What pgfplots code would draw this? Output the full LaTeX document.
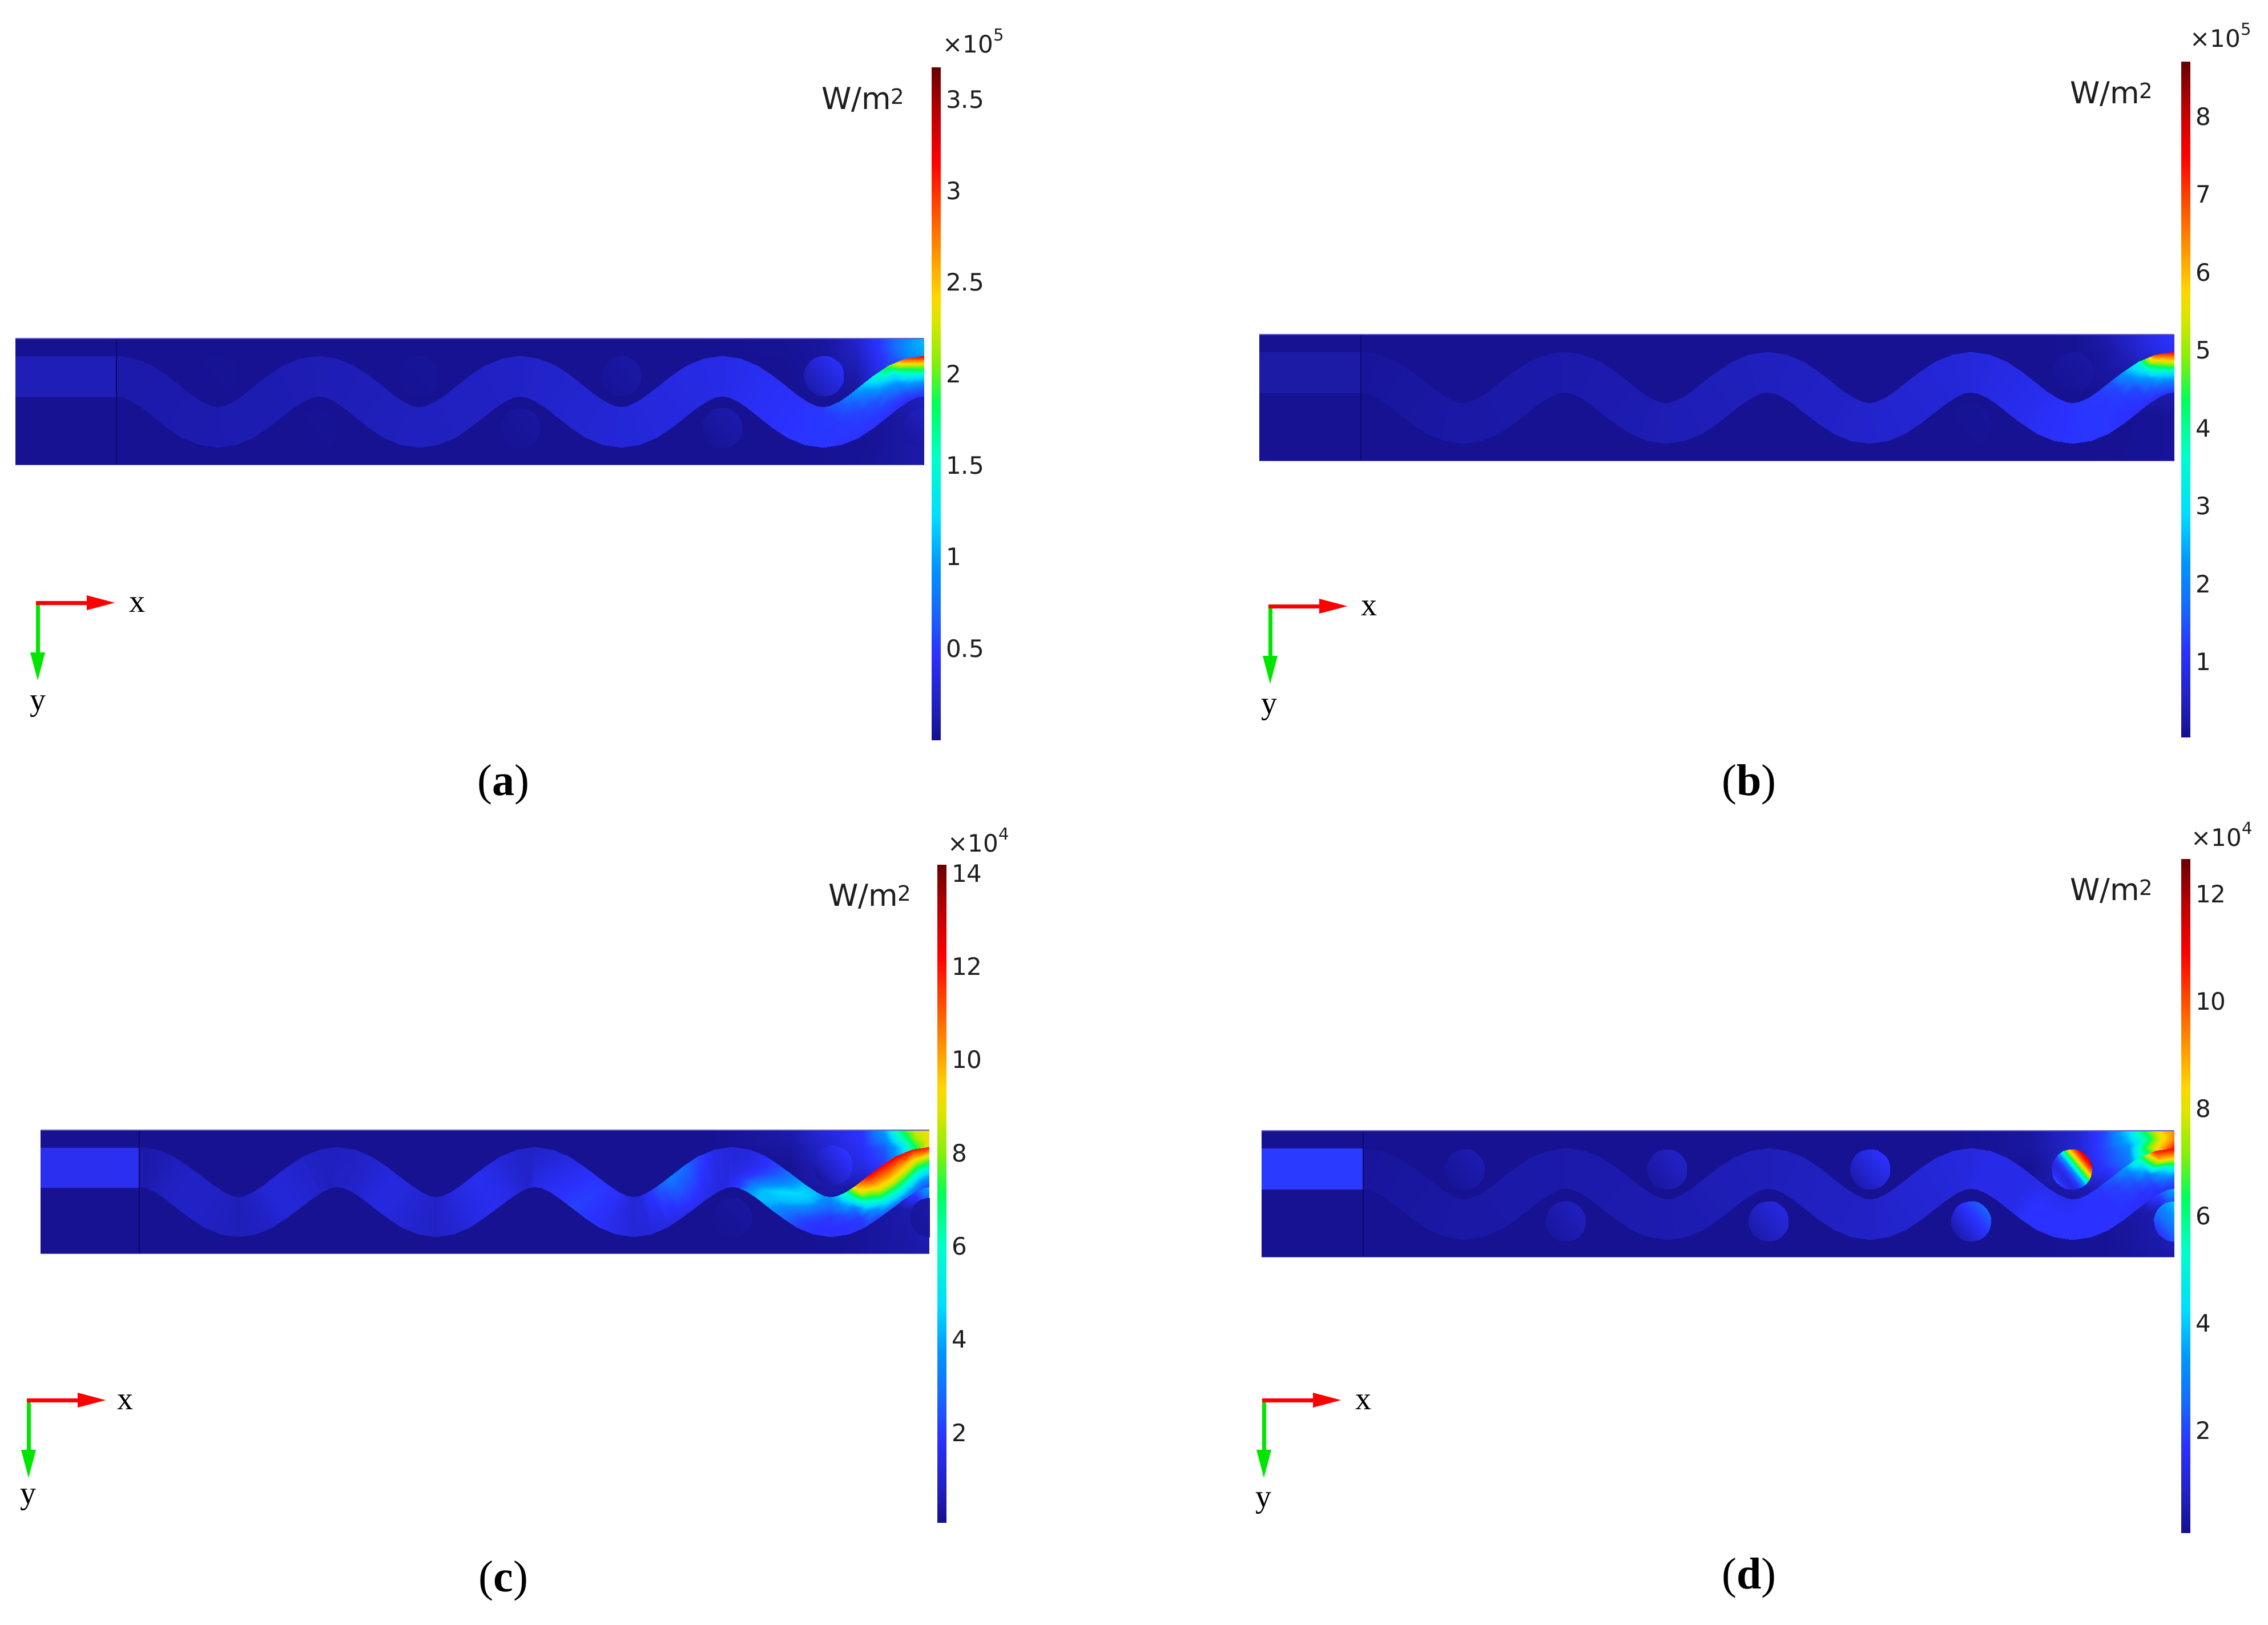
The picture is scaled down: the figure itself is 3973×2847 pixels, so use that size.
\documentclass[border=0pt]{standalone}
\usepackage{fontspec}
\setmainfont{DejaVu Sans}
\newfontfamily\serifx{Liberation Serif}
\usepackage{pgfplots}
\usepackage{pgfplotstable}
\pgfplotsset{compat=1.18}
\definecolor{bgnavy}{RGB}{22,18,145}
\definecolor{sepline}{RGB}{12,10,105}
\definecolor{edgeln}{RGB}{95,95,200}
\definecolor{txt}{RGB}{30,30,30}
\definecolor{inA}{RGB}{31,31,184}
\definecolor{inB}{RGB}{27,27,166}
\definecolor{inC}{RGB}{43,48,240}
\definecolor{inD}{RGB}{43,58,255}
\definecolor{triadg}{RGB}{0,230,0}
\newcommand\tickf{\fontsize{42}{50}\selectfont}
\newcommand\unitf{\fontsize{53}{60}\selectfont}
\newcommand\capf{\serifx\fontsize{78}{90}\selectfont}
\newcommand\xyf{\serifx\fontsize{56}{60}\selectfont}
\newcommand\supr[1]{\raisebox{0.5em}{\fontsize{29}{30}\selectfont #1}}
\pgfplotsset{
  colormap={cmheat}{rgb255(0)=(21,16,140) rgb255(5)=(32,32,190) rgb255(13)=(43,50,255) rgb255(20)=(20,110,255)
    rgb255(26)=(0,150,255) rgb255(33)=(0,220,255) rgb255(42)=(0,255,200) rgb255(50)=(0,255,90)
    rgb255(56)=(130,240,10) rgb255(62)=(215,230,0) rgb255(66)=(255,215,0) rgb255(75)=(255,120,0)
    rgb255(86)=(255,0,0) rgb255(93)=(190,0,0) rgb255(100)=(105,0,0)},
  colormap name=cmheat,
  panel/.style={anchor=south west,scale only axis,hide axis,xmin=0,xmax=1600,ymin=0,ymax=220,
    y dir=reverse,point meta min=0,point meta max=1,clip=true},
  cbar/.style={anchor=south west,scale only axis,width=15pt,xmin=0,xmax=1,xtick=\empty,
    axis line style={draw=none},yticklabel pos=right,scaled y ticks=false,tick align=inside,
    major tick length=6pt,ytick pos=both,point meta min=0,point meta max=1,
    tick style={black,opacity=0.3,line width=1pt},
    /pgf/number format/assume math mode=true,
    yticklabel style={font=\tickf,text=txt,inner sep=0pt,xshift=10pt,yshift=-2pt}},
}
% ---- background glow, right end of each plate: x y a b c d
\pgfplotstableread{
x y a b c d
1200 0 0.005 0.005 0.005 0.005
1200 15 0.005 0.005 0.005 0.005
1200 30 0.005 0.005 0.005 0.005
1200 60 0.005 0.005 0.005 0.005
1200 100 0.005 0.005 0.005 0.005
1200 140 0.005 0.005 0.005 0.005
1200 220 0.005 0.005 0.005 0.005
1350 0 0.01 0.005 0.03 0.02
1350 15 0.01 0.005 0.03 0.02
1350 30 0.008 0.005 0.02 0.02
1350 60 0.005 0.005 0.01 0.01
1350 100 0.005 0.005 0.005 0.01
1350 140 0.005 0.005 0.005 0.005
1350 220 0.005 0.005 0.005 0.005
1430 0 0.02 0.01 0.10 0.07
1430 15 0.02 0.01 0.09 0.07
1430 30 0.02 0.01 0.08 0.07
1430 60 0.02 0.01 0.06 0.06
1430 100 0.01 0.005 0.03 0.03
1430 140 0.008 0.005 0.01 0.01
1430 220 0.008 0.005 0.01 0.01
1480 0 0.06 0.03 0.13 0.16
1480 15 0.06 0.03 0.13 0.16
1480 30 0.05 0.02 0.12 0.16
1480 60 0.03 0.02 0.10 0.14
1480 100 0.012 0.01 0.03 0.05
1480 140 0.01 0.005 0.01 0.01
1480 220 0.01 0.005 0.015 0.01
1520 0 0.13 0.06 0.28 0.33
1520 15 0.13 0.06 0.24 0.30
1520 30 0.12 0.05 0.18 0.24
1520 60 0.10 0.03 0.15 0.20
1520 100 0.03 0.01 0.10 0.10
1520 140 0.012 0.005 0.02 0.02
1520 220 0.015 0.01 0.02 0.015
1550 0 0.20 0.09 0.50 0.52
1550 15 0.20 0.09 0.42 0.44
1550 30 0.18 0.08 0.32 0.52
1550 60 0.12 0.05 0.30 0.30
1550 100 0.03 0.02 0.10 0.10
1550 140 0.02 0.01 0.03 0.03
1550 220 0.02 0.01 0.02 0.02
1575 0 0.26 0.11 0.62 0.66
1575 15 0.26 0.11 0.58 0.62
1575 30 0.24 0.10 0.50 0.68
1575 60 0.20 0.06 0.30 0.30
1575 100 0.04 0.03 0.20 0.20
1575 140 0.025 0.01 0.04 0.04
1575 220 0.025 0.01 0.025 0.025
1600 0 0.30 0.13 0.66 0.74
1600 15 0.29 0.13 0.66 0.74
1600 30 0.27 0.12 0.66 0.84
1600 60 0.30 0.08 0.30 0.30
1600 100 0.05 0.04 0.30 0.30
1600 140 0.03 0.015 0.06 0.06
1600 220 0.03 0.015 0.03 0.03
}\glowtab
% ---- serpentine channel, first three periods: two edge points per station
\pgfplotstableread{
x y a b c d
178 29.5 0.030 0.015 0.03 0.015
178 100.5 0.030 0.015 0.03 0.015
210.4 34.4 0.031 0.016 0.035 0.016
190 102.4 0.031 0.016 0.035 0.016
239.7 47 0.031 0.018 0.045 0.018
205.2 109.1 0.031 0.018 0.045 0.018
265.6 63.8 0.032 0.019 0.055 0.019
223.8 121.2 0.032 0.019 0.055 0.019
288.8 81.6 0.032 0.020 0.06 0.020
245 137.4 0.032 0.020 0.06 0.020
310 97.8 0.033 0.021 0.06 0.021
268.2 155.3 0.033 0.021 0.06 0.021
328.6 109.9 0.034 0.022 0.055 0.022
294.1 172 0.034 0.022 0.055 0.022
343.8 116.6 0.034 0.024 0.05 0.024
323.4 184.6 0.034 0.024 0.05 0.024
355.8 118.5 0.035 0.025 0.045 0.025
355.8 189.5 0.035 0.025 0.045 0.025
367.8 116.6 0.036 0.026 0.05 0.026
388.2 184.6 0.036 0.026 0.05 0.026
383 109.9 0.036 0.026 0.06 0.026
417.5 172 0.036 0.026 0.06 0.026
401.5 97.8 0.037 0.027 0.08 0.027
443.3 155.3 0.037 0.027 0.08 0.027
422.8 81.6 0.037 0.028 0.08 0.028
466.6 137.4 0.037 0.028 0.08 0.028
446 63.8 0.038 0.028 0.07 0.028
487.8 121.2 0.038 0.028 0.07 0.028
471.9 47 0.039 0.029 0.06 0.029
506.4 109.1 0.039 0.029 0.06 0.029
501.1 34.4 0.039 0.029 0.05 0.029
521.5 102.4 0.039 0.029 0.05 0.029
533.6 29.5 0.040 0.030 0.05 0.030
533.6 100.5 0.040 0.030 0.06 0.030
566 34.4 0.041 0.031 0.055 0.031
545.6 102.4 0.041 0.031 0.06 0.031
595.3 47 0.042 0.033 0.065 0.031
560.8 109.1 0.042 0.033 0.065 0.031
621.2 63.8 0.044 0.034 0.08 0.032
579.4 121.2 0.044 0.034 0.08 0.032
644.4 81.6 0.045 0.035 0.09 0.033
600.6 137.4 0.045 0.035 0.09 0.033
665.6 97.8 0.046 0.036 0.085 0.033
623.8 155.3 0.046 0.036 0.085 0.033
684.2 109.9 0.047 0.038 0.075 0.034
649.7 172 0.047 0.038 0.075 0.034
699.4 116.6 0.049 0.039 0.065 0.034
679 184.6 0.049 0.039 0.065 0.034
711.4 118.5 0.050 0.040 0.06 0.035
711.4 189.5 0.050 0.040 0.06 0.035
723.4 116.6 0.051 0.041 0.07 0.036
743.8 184.6 0.051 0.041 0.07 0.036
738.6 109.9 0.052 0.043 0.085 0.038
773.1 172 0.052 0.043 0.085 0.038
757.1 97.8 0.054 0.044 0.10 0.039
798.9 155.3 0.054 0.044 0.10 0.039
778.4 81.6 0.055 0.045 0.11 0.040
822.2 137.4 0.055 0.045 0.11 0.040
801.6 63.8 0.056 0.046 0.10 0.041
843.4 121.2 0.056 0.046 0.10 0.041
827.5 47 0.057 0.047 0.08 0.043
862 109.1 0.057 0.047 0.08 0.043
856.7 34.4 0.059 0.049 0.065 0.044
877.1 102.4 0.059 0.049 0.065 0.044
889.2 29.5 0.060 0.050 0.06 0.045
889.2 100.5 0.060 0.050 0.10 0.045
921.6 34.4 0.062 0.052 0.07 0.047
901.2 102.4 0.062 0.052 0.11 0.047
950.9 47 0.065 0.054 0.09 0.049
916.4 109.1 0.065 0.054 0.12 0.049
976.8 63.8 0.067 0.056 0.11 0.051
935 121.2 0.067 0.056 0.13 0.051
1000 81.6 0.070 0.058 0.13 0.053
956.2 137.4 0.070 0.058 0.15 0.053
1021.2 97.8 0.072 0.059 0.135 0.054
979.4 155.3 0.072 0.059 0.135 0.054
1039.8 109.9 0.075 0.061 0.12 0.056
1005.3 172 0.075 0.061 0.12 0.056
1055 116.6 0.077 0.063 0.10 0.058
1034.6 184.6 0.077 0.063 0.10 0.058
1067 118.5 0.080 0.065 0.08 0.060
1067 189.5 0.080 0.065 0.08 0.060
1079 116.6 0.082 0.068 0.09 0.064
1099.4 184.6 0.082 0.068 0.08 0.064
1094.2 109.9 0.085 0.070 0.13 0.068
1128.7 172 0.085 0.070 0.09 0.068
1112.7 97.8 0.087 0.073 0.18 0.071
1154.5 155.3 0.087 0.073 0.10 0.071
1134 81.6 0.090 0.075 0.22 0.075
1177.8 137.4 0.090 0.075 0.11 0.075
1157.2 63.8 0.092 0.078 0.20 0.079
1199 121.2 0.092 0.078 0.10 0.079
1183.1 47 0.095 0.080 0.15 0.083
1217.6 109.1 0.095 0.080 0.09 0.083
1212.3 34.4 0.097 0.083 0.10 0.086
1232.7 102.4 0.097 0.083 0.09 0.086
1244.8 29.5 0.100 0.085 0.08 0.090
1244.8 100.5 0.100 0.085 0.12 0.090
}\chantab
% ---- last period of the channel: five points across per station
\pgfplotstableread{
x y a b c d
1244.7 29.5 0.10 0.085 0.08 0.09
1244.7 47.25 0.10 0.085 0.08 0.09
1244.7 65 0.10 0.085 0.09 0.09
1244.7 82.75 0.10 0.085 0.10 0.09
1244.7 100.5 0.10 0.085 0.12 0.10
1277.1 34.4 0.105 0.09 0.09 0.10
1272 51.4 0.105 0.09 0.09 0.10
1266.9 68.4 0.105 0.09 0.10 0.10
1261.8 85.4 0.105 0.09 0.13 0.10
1256.7 102.4 0.105 0.09 0.15 0.10
1306.4 47 0.11 0.095 0.12 0.10
1297.7 62.5 0.11 0.095 0.12 0.10
1289.1 78 0.11 0.095 0.14 0.10
1280.5 93.5 0.11 0.095 0.20 0.10
1271.9 109.1 0.11 0.095 0.25 0.10
1332.2 63.8 0.115 0.10 0.16 0.10
1321.7 78.1 0.115 0.10 0.17 0.10
1311.3 92.5 0.115 0.10 0.22 0.10
1300.9 106.8 0.115 0.10 0.30 0.10
1290.4 121.2 0.115 0.10 0.30 0.10
1355.5 81.6 0.12 0.105 0.22 0.10
1344.6 95.6 0.12 0.105 0.25 0.10
1333.6 109.5 0.12 0.105 0.33 0.10
1322.6 123.5 0.12 0.105 0.30 0.10
1311.7 137.4 0.12 0.105 0.26 0.10
1376.7 97.8 0.125 0.11 0.30 0.11
1366.2 112.2 0.125 0.11 0.33 0.12
1355.8 126.5 0.125 0.11 0.30 0.13
1345.4 140.9 0.125 0.11 0.22 0.13
1334.9 155.3 0.125 0.11 0.20 0.13
1395.3 109.9 0.13 0.12 0.30 0.11
1386.6 125.5 0.13 0.12 0.30 0.12
1378 141 0.13 0.12 0.22 0.13
1369.4 156.5 0.13 0.12 0.16 0.13
1360.8 172 0.13 0.12 0.14 0.13
1410.4 116.6 0.135 0.125 0.26 0.11
1405.3 133.6 0.135 0.125 0.22 0.12
1400.2 150.6 0.135 0.125 0.16 0.13
1395.1 167.6 0.135 0.125 0.13 0.13
1390 184.6 0.135 0.125 0.13 0.13
1422.4 118.5 0.135 0.13 0.25 0.11
1422.4 136.25 0.135 0.13 0.20 0.12
1422.4 154 0.135 0.13 0.14 0.13
1422.4 171.75 0.135 0.13 0.13 0.13
1422.4 189.5 0.135 0.13 0.13 0.13
1434.5 116.6 0.16 0.135 0.32 0.12
1439.6 133.6 0.14 0.135 0.24 0.13
1444.7 150.6 0.135 0.135 0.16 0.13
1449.8 167.6 0.135 0.135 0.13 0.13
1454.9 184.6 0.13 0.135 0.13 0.13
1449.7 109.9 0.18 0.135 0.45 0.13
1458.3 125.5 0.16 0.135 0.34 0.13
1466.9 141 0.14 0.135 0.20 0.13
1475.5 156.5 0.135 0.135 0.14 0.13
1484.2 172 0.13 0.135 0.13 0.13
1468.2 97.8 0.22 0.14 0.72 0.14
1478.7 112.2 0.18 0.135 0.60 0.13
1489.1 126.5 0.15 0.135 0.42 0.13
1499.5 140.9 0.14 0.13 0.25 0.13
1510 155.3 0.13 0.13 0.15 0.125
1489.4 81.6 0.30 0.17 0.86 0.18
1500.3 95.6 0.23 0.15 0.72 0.15
1511.3 109.5 0.17 0.14 0.58 0.14
1522.3 123.5 0.145 0.13 0.38 0.13
1533.2 137.4 0.125 0.125 0.20 0.12
1512.7 63.8 0.40 0.28 0.87 0.27
1523.2 78.1 0.31 0.22 0.75 0.20
1533.6 92.5 0.21 0.16 0.62 0.16
1544 106.8 0.155 0.14 0.42 0.13
1554.5 121.2 0.115 0.12 0.22 0.12
1538.6 47 0.55 0.42 0.87 0.45
1547.2 62.5 0.36 0.35 0.72 0.33
1555.8 78 0.25 0.24 0.58 0.20
1564.4 93.5 0.17 0.17 0.38 0.15
1573 109.1 0.11 0.12 0.20 0.11
1567.8 34.4 0.80 0.80 0.85 0.85
1572.9 51.4 0.52 0.55 0.66 0.66
1578 68.4 0.33 0.34 0.48 0.32
1583.1 85.4 0.20 0.20 0.30 0.20
1588.2 102.4 0.12 0.13 0.16 0.12
1600 29.5 0.88 0.87 0.84 0.87
1600 47.25 0.58 0.63 0.60 0.66
1600 65 0.34 0.36 0.42 0.38
1600 82.75 0.20 0.22 0.26 0.20
1600 100.5 0.13 0.14 0.15 0.13
}\endtab
% ---- unit disk cut in chords across its gradient: x y u s
\pgfplotstableread{
x y u s
-0.77 0.64 0 0.18
-0.77 0.64 0 0.18
-0.578 0.817 0.017 0.16
-0.910 0.419 0.017 0.16
-0.347 0.939 0.067 0.13
-0.987 0.169 0.067 0.13
-0.092 0.996 0.146 0.10
-0.996 -0.092 0.146 0.10
0.169 0.987 0.25 0.09
-0.939 -0.347 0.25 0.09
0.419 0.910 0.371 0.14
-0.817 -0.578 0.371 0.14
0.64 0.77 0.5 0.26
-0.64 -0.77 0.5 0.26
0.817 0.578 0.629 0.48
-0.419 -0.910 0.629 0.48
0.939 0.347 0.75 0.64
-0.169 -0.987 0.75 0.64
0.996 0.092 0.854 0.78
0.092 -0.996 0.854 0.78
0.987 -0.169 0.933 0.86
0.347 -0.939 0.933 0.86
0.910 -0.419 0.983 0.88
0.578 -0.817 0.983 0.88
0.77 -0.64 1 0.88
0.77 -0.64 1 0.88
}\disktab
\newcommand\HeatGlow[1]{\addplot[surf,shader=interp,mesh/cols=7,point meta=\thisrow{#1}] table[x=x,y=y]{\glowtab};}
\newcommand\HeatChan[1]{\addplot[surf,shader=interp,mesh/cols=2,point meta=\thisrow{#1}] table[x=x,y=y]{\chantab};
  \addplot[surf,shader=interp,mesh/cols=5,point meta=\thisrow{#1}] table[x=x,y=y]{\endtab};}
% centre x, centre y, base level, rise across the disk
\newcommand\DiskAt[4]{\addplot[surf,shader=interp,mesh/cols=2,point meta={#3+#4*\thisrow{u}}]
  table[x expr={\thisrow{x}*35+#1},y expr={\thisrow{y}*35+#2}]{\disktab};}
\newcommand\Plate{\addplot[fill=bgnavy,draw=none] coordinates {(0,0)(1600,0)(1600,220)(0,220)} --cycle;}
\newcommand\Inlet[1]{\addplot[fill=#1,draw=none] coordinates {(0,31)(178,31)(178,102)(0,102)} --cycle;}
\newcommand\Rim{\addplot[sepline,line width=2.5pt] coordinates {(178,0)(178,220)};
  \addplot[edgeln,line width=2pt] coordinates {(0,0)(1600,0)};
  \addplot[edgeln,line width=2pt] coordinates {(0,220)(1600,220)};}
\begin{document}
\begin{tikzpicture}
\path[use as bounding box] (0,0) rectangle (3973pt,2847pt);
% ===== panels =====
\begin{axis}[panel,at={(27pt,2032pt)},width=1591pt,height=222pt]
\Plate \HeatGlow{a}
\DiskAt{356}{65}{0.006}{0.004}\DiskAt{533}{157}{0.006}{0.004}\DiskAt{711}{65}{0.008}{0.006}
\DiskAt{889}{155}{0.01}{0.01}\DiskAt{1067}{65}{0.012}{0.012}\DiskAt{1245}{155}{0.012}{0.02}
\DiskAt{1424}{65}{0.03}{0.09}\DiskAt{1600}{155}{0.02}{0.04}
\Inlet{inA}
\HeatChan{a} \Rim
\end{axis}
\begin{axis}[panel,at={(2206pt,2039pt)},width=1602pt,height=222pt]
\Plate \HeatGlow{b}
\DiskAt{1245}{155}{0.006}{0.006}\DiskAt{1424}{65}{0.01}{0.012}
\Inlet{inB}
\HeatChan{b} \Rim
\end{axis}
\begin{axis}[panel,at={(71pt,650pt)},width=1557pt,height=217pt]
\Plate \HeatGlow{c}
\DiskAt{1245}{155}{0.008}{0.012}\DiskAt{1426}{62}{0.015}{0.12}\DiskAt{1600}{155}{0.015}{0.012}
\Inlet{inC}
\HeatChan{c} \Rim
\end{axis}
\begin{axis}[panel,at={(2210pt,644pt)},width=1598pt,height=222pt]
\Plate \HeatGlow{d}
\DiskAt{356}{67}{0.012}{0.025}\DiskAt{533}{157}{0.02}{0.03}\DiskAt{711}{67}{0.02}{0.04}
\DiskAt{889}{157}{0.03}{0.06}\DiskAt{1067}{67}{0.03}{0.10}\DiskAt{1244}{157}{0.03}{0.16}
\addplot[surf,shader=interp,mesh/cols=2,point meta=\thisrow{s}]
  table[x expr={\thisrow{x}*35+1421},y expr={\thisrow{y}*35+67}]{\disktab};
\DiskAt{1600}{157}{0.13}{0.22}
\Inlet{inD}
\HeatChan{d} \Rim
\end{axis}
% ===== colour bars =====
\begin{axis}[cbar,at={(1632pt,1550pt)},height=1179pt,ymin=-0.009,ymax=3.669,ytick={0.5,1,1.5,2,2.5,3,3.5}]
\addplot[surf,shader=interp,mesh/cols=2,point meta=\thisrow{m}] table {
x y m
0 -0.009 0
1 -0.009 0
0 3.669 1
1 3.669 1
};
\end{axis}
\begin{axis}[cbar,at={(3821pt,1555pt)},height=1184pt,ymin=0.011,ymax=8.689,ytick={1,2,3,4,5,6,7,8}]
\addplot[surf,shader=interp,mesh/cols=2,point meta=\thisrow{m}] table {
x y m
0 0.011 0
1 0.011 0
0 8.689 1
1 8.689 1
};
\end{axis}
\begin{axis}[cbar,at={(1642pt,179pt)},height=1153pt,ymin=0.04,ymax=14.16,ytick={2,4,6,8,10,12,14}]
\addplot[surf,shader=interp,mesh/cols=2,point meta=\thisrow{m}] table {
x y m
0 0.04 0
1 0.04 0
0 14.16 1
1 14.16 1
};
\end{axis}
\begin{axis}[cbar,at={(3821pt,161pt)},height=1181pt,ymin=0.06,ymax=12.63,ytick={2,4,6,8,10,12}]
\addplot[surf,shader=interp,mesh/cols=2,point meta=\thisrow{m}] table {
x y m
0 0.06 0
1 0.06 0
0 12.63 1
1 12.63 1
};
\end{axis}
% ===== triads and texts, in reference pixels =====
\begin{axis}[at={(0pt,0pt)},anchor=south west,scale only axis,hide axis,width=3973pt,height=2847pt,
  xmin=0,xmax=3973,ymin=0,ymax=2847,y dir=reverse,clip=false]
% (a)
\addplot[triadg,line width=7pt] coordinates {(66,1058)(66,1146)};
\addplot[fill=triadg,draw=none] coordinates {(53,1143)(66,1192)(79,1143)} --cycle;
\addplot[red,line width=7pt] coordinates {(63,1056)(155,1056)};
\addplot[fill=red,draw=none] coordinates {(152,1043)(201,1056)(152,1069)} --cycle;
% (b)
\addplot[triadg,line width=7pt] coordinates {(2225,1064)(2225,1152)};
\addplot[fill=triadg,draw=none] coordinates {(2212,1149)(2225,1198)(2238,1149)} --cycle;
\addplot[red,line width=7pt] coordinates {(2222,1062)(2314,1062)};
\addplot[fill=red,draw=none] coordinates {(2311,1049)(2360,1062)(2311,1075)} --cycle;
% (c)
\addplot[triadg,line width=7pt] coordinates {(50,2455)(50,2543)};
\addplot[fill=triadg,draw=none] coordinates {(37,2540)(50,2589)(63,2540)} --cycle;
\addplot[red,line width=7pt] coordinates {(47,2453)(139,2453)};
\addplot[fill=red,draw=none] coordinates {(136,2440)(185,2453)(136,2466)} --cycle;
% (d)
\addplot[triadg,line width=7pt] coordinates {(2214,2455)(2214,2543)};
\addplot[fill=triadg,draw=none] coordinates {(2201,2540)(2214,2589)(2227,2540)} --cycle;
\addplot[red,line width=7pt] coordinates {(2211,2453)(2303,2453)};
\addplot[fill=red,draw=none] coordinates {(2300,2440)(2349,2453)(2300,2466)} --cycle;
\node[font=\xyf] at (axis cs:240,1060) {x};
\node[font=\xyf] at (axis cs:66,1238) {y};
\node[font=\xyf] at (axis cs:2398,1066) {x};
\node[font=\xyf] at (axis cs:2223,1244) {y};
\node[font=\xyf] at (axis cs:219,2457) {x};
\node[font=\xyf] at (axis cs:49,2628) {y};
\node[font=\xyf] at (axis cs:2388,2457) {x};
\node[font=\xyf] at (axis cs:2213,2634) {y};
\node[font=\unitf,text=txt] at (axis cs:1512,175) {W/m\textsuperscript{2}};
\node[font=\unitf,text=txt] at (axis cs:3699,165) {W/m\textsuperscript{2}};
\node[font=\unitf,text=txt] at (axis cs:1524,1571) {W/m\textsuperscript{2}};
\node[font=\unitf,text=txt] at (axis cs:3699,1561) {W/m\textsuperscript{2}};
\node[font=\tickf,text=txt] at (axis cs:1705,72) {×10\supr{5}};
\node[font=\tickf,text=txt] at (axis cs:3890,62) {×10\supr{5}};
\node[font=\tickf,text=txt] at (axis cs:1714,1472) {×10\supr{4}};
\node[font=\tickf,text=txt] at (axis cs:3892,1462) {×10\supr{4}};
\node[font=\capf] at (axis cs:882,1375) {(\textbf{a})};
\node[font=\capf] at (axis cs:3064,1375) {(\textbf{b})};
\node[font=\capf] at (axis cs:882,2770) {(\textbf{c})};
\node[font=\capf] at (axis cs:3064,2765) {(\textbf{d})};
\end{axis}
\end{tikzpicture}
\end{document}
